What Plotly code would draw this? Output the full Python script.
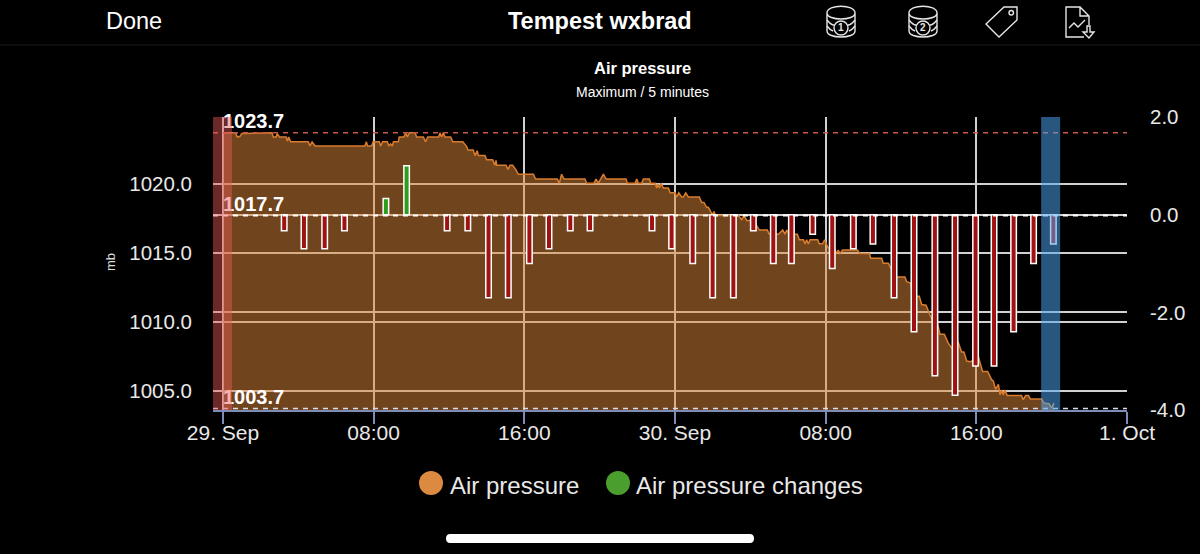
import pandas as pd
import plotly.graph_objects as go

# hours after 29 Sep 00:00
pressure_hours = [
    0.0, 0.67, 0.76, 0.9, 1.0, 2.6, 2.67, 2.82, 2.88, 3.0, 3.35, 3.42, 3.49, 3.59, 4.53, 4.62, 4.73, 4.89,
    7.54, 7.61, 7.68, 7.89, 7.98, 8.3, 8.37, 8.48, 8.73, 8.8, 8.9, 8.99, 9.05, 9.31, 9.36, 9.61, 9.7, 9.79, 9.89,
    10.2, 10.28, 10.64, 10.76, 10.87, 11.45, 11.52, 11.61, 11.7, 11.79, 12.09, 12.2, 12.73, 12.94, 13.01, 13.29,
    13.38, 13.5, 13.56, 13.91, 14.0, 14.32, 14.43, 14.5, 14.53, 15.03, 15.13, 15.24, 15.38, 15.54, 15.68,
    16.48, 16.6, 17.75, 17.86, 17.98, 18.1, 19.22, 19.31, 19.7, 19.81, 19.93, 20.05, 20.2, 20.34, 21.4, 21.47,
    21.88, 21.97, 22.05, 22.23, 22.32, 22.64, 22.71, 22.94, 23.03, 23.08, 23.17, 23.26, 23.38, 23.65, 23.74,
    24.0, 24.09, 24.2, 24.35, 24.44, 24.57, 24.71, 25.29, 25.42, 25.54, 25.68, 25.77, 25.89, 26.0, 26.07, 26.14,
    27.36, 27.54, 27.66, 27.81, 28.16, 28.37, 28.48, 28.9, 29.01, 29.49, 29.72, 29.84, 29.93, 30.07, 30.5, 30.6,
    30.82, 30.9, 30.99, 31.08, 31.17, 31.58, 31.66, 31.84, 31.95, 32.05, 32.14, 32.5, 32.58, 32.67, 32.76, 32.9,
    33.68, 33.82, 34.32, 34.39, 34.97, 35.06, 35.33, 35.45, 35.56, 35.68, 36.21, 36.3, 36.51, 36.62, 36.97, 37.1,
    37.33, 37.54, 37.72, 37.93, 38.07, 38.3, 38.51, 38.69, 39.04, 39.22, 39.34, 39.49, 39.7, 40.1, 40.33, 40.6,
    40.81, 40.9, 41.02, 41.17, 41.26, 41.34, 41.43, 41.52, 41.64, 42.4, 42.49, 42.62, 42.76, 42.87, 43.47, 43.59,
    43.86, 44.0, 44.12,
]
pressure_mb = [
    1023.7, 1023.7, 1023.4, 1023.45, 1023.65, 1023.7, 1023.4, 1023.4, 1023.65, 1023.4, 1023.4, 1023.1, 1023.4, 1023.05, 1023.05, 1022.75, 1023.05, 1022.75,
    1022.75, 1023.05, 1022.75, 1022.75, 1023.05, 1023.05, 1022.75, 1023.05, 1023.05, 1022.75, 1022.9, 1022.75, 1023.05, 1023.05, 1023.4, 1023.4, 1023.7, 1023.4, 1023.7,
    1023.7, 1023.4, 1023.4, 1023.05, 1023.4, 1023.4, 1023.7, 1023.4, 1023.7, 1023.4, 1023.4, 1023.05, 1023.05, 1022.7, 1022.45, 1022.45,
    1022.05, 1022.4, 1022.05, 1022.05, 1021.75, 1021.75, 1021.35, 1021.7, 1021.35, 1021.35, 1021.05, 1021.35, 1021.35, 1021.05, 1020.7,
    1020.7, 1020.35, 1020.35, 1020.05, 1020.7, 1020.35, 1020.35, 1020.05, 1020.05, 1020.35, 1020.05, 1020.35, 1020.7, 1020.35, 1020.35, 1020.05,
    1020.05, 1020.35, 1020.05, 1020.05, 1020.35, 1020.35, 1020.05, 1020.05, 1019.7, 1020.0, 1019.7, 1020.05, 1019.7, 1019.7, 1019.35,
    1019.35, 1019.05, 1019.35, 1019.05, 1019.05, 1019.35, 1019.05, 1019.05, 1018.65, 1018.65, 1018.3, 1018.3, 1018.0, 1017.75, 1018.0, 1017.7,
    1017.7, 1017.4, 1017.7, 1017.35, 1017.35, 1016.95, 1016.65, 1016.65, 1016.35, 1016.35, 1016.65, 1016.35, 1016.65, 1016.35, 1016.35, 1015.95,
    1015.95, 1015.65, 1015.95, 1015.65, 1015.95, 1015.95, 1015.65, 1015.65, 1015.95, 1015.6, 1015.35, 1015.2, 1014.95, 1015.2, 1014.95, 1015.2,
    1015.2, 1014.95, 1014.95, 1014.6, 1014.6, 1014.25, 1014.25, 1013.9, 1013.9, 1013.25, 1013.25, 1012.9, 1012.8, 1011.85, 1011.85, 1011.25,
    1011.2, 1010.5, 1010.0, 1009.9, 1009.1, 1009.1, 1008.45, 1008.1, 1008.5, 1007.8, 1007.8, 1007.15, 1007.1, 1007.5, 1006.4, 1006.4,
    1005.8, 1005.7, 1005.1, 1005.45, 1004.7, 1005.05, 1004.7, 1005.05, 1004.65, 1004.65, 1004.35, 1004.65, 1004.65, 1004.4, 1004.4, 1004.1,
    1004.05, 1003.75, 1004.1,
]

change_hours = [
    3.25, 4.3, 5.4, 6.45, 8.65, 9.75, 11.9, 13.0, 14.1, 15.15, 16.27, 17.31, 18.44, 19.49, 22.78, 23.82, 24.94,
    26.0, 27.1, 28.16, 29.22, 30.18, 31.31, 32.35, 33.47, 34.51, 35.63, 36.69, 37.8, 38.87, 39.96, 40.94, 41.98,
    43.04, 44.09,
]
change_mb = [
    -0.33, -0.7, -0.7, -0.33, 0.33, 1.0, -0.33, -0.33, -1.7, -1.7, -1.0, -0.7, -0.33, -0.33, -0.33, -0.7, -1.0,
    -1.7, -1.7, -0.33, -1.0, -1.0, -0.4, -1.1, -0.7, -0.6, -1.7, -2.4, -3.3, -3.7, -3.1, -3.1, -2.4,
    -1.0, -0.6,
]

x_tick_dates = ["2021-09-29 00:00", "2021-09-29 08:00", "2021-09-29 16:00", "2021-09-30 00:00",
                "2021-09-30 08:00", "2021-09-30 16:00", "2021-10-01 00:00"]
x_tick_labels = ["29. Sep", "08:00", "16:00", "30. Sep", "08:00", "16:00", "1. Oct"]
y_ticks = [1005, 1010, 1015, 1020]
y_tick_labels = ["1005.0", "1010.0", "1015.0", "1020.0"]
y2_ticks = [-4, -2, 0, 2]
y2_tick_labels = ["-4.0", "-2.0", "0.0", "2.0"]
ref_values = [1023.7, 1017.7, 1003.7]
ref_colors = ["#c9584a", "#ffffff", "#d8e0f0"]
band_starts = [-0.53, 43.44]
band_ends = [0.48, 44.45]
band_colors = ["rgba(235,89,89,0.45)", "rgba(76,164,242,0.52)"]
legend_names = ["Air pressure", "Air pressure changes"]
legend_colors = ["#dc8a40", "#4a9e2e"]

start = pd.Timestamp("2021-09-29 00:00")


def to_date(hours):
    return start + pd.to_timedelta(hours, unit="h")


# plot area in window pixels
LEFT, RIGHT, TOP, BOTTOM = 213, 1127, 117, 410


def pxx(x):
    return (x - LEFT) / (RIGHT - LEFT)


def pxy(y):
    return (BOTTOM - y) / (BOTTOM - TOP)


def path(*parts):
    # parts are svg commands / pixel pairs, turned into paper coordinates
    out = []
    for p in parts:
        if isinstance(p, str):
            out.append(p)
        else:
            out.append(f"{pxx(p[0]):.5f},{pxy(p[1]):.5f}")
    return " ".join(out)


fig = go.Figure()

fig.add_trace(go.Scatter(
    x=[to_date(h) for h in pressure_hours], y=pressure_mb, mode="lines", yaxis="y", name=legend_names[0],
    line=dict(color="#d97c2e", width=1.5), fill="tozeroy", fillcolor="rgba(224,138,60,0.5)",
))

# labels as a trace so the plot bands tint them
fig.add_trace(go.Scatter(
    x=[start] * 3, y=ref_values, mode="text", yaxis="y", text=[f"{v:.1f}" for v in ref_values],
    textposition="top right", cliponaxis=False,
    textfont=dict(family="Liberation Sans", size=20, color="#ffffff", weight="bold"),
))

fig.add_trace(go.Bar(
    x=[to_date(h) for h in change_hours], y=change_mb, yaxis="y2", width=1050000, name=legend_names[1],
    marker=dict(color=["#2f9e1e" if v > 0 else "#a01212" for v in change_mb],
                line=dict(color="#ffffff", width=1.5)),
))

shapes = []
for v, c in zip(ref_values, ref_colors):
    shapes.append(dict(type="line", xref="paper", yref="y", x0=0, x1=1, y0=v, y1=v, layer="above",
                       line=dict(color=c, width=2 if c == "#ffffff" else 1.5, dash="5px,5px")))
for a, b, c in zip(band_starts, band_ends, band_colors):
    shapes.append(dict(type="rect", xref="x", yref="paper", x0=to_date(a), x1=to_date(b), y0=0, y1=1,
                       layer="above", fillcolor=c, line_width=0))

# header separator and home bar
shapes.append(dict(type="line", xref="paper", yref="paper", x0=pxx(0), x1=pxx(1200), y0=pxy(45), y1=pxy(45),
                   line=dict(color="#1c1c1c", width=1)))
shapes.append(dict(type="path", xref="paper", yref="paper", fillcolor="#ffffff", line_width=0,
                   path=path("M", (450, 534), "L", (750, 534), "Q", (754, 534), (754, 538.5), "Q", (754, 543), (750, 543),
                             "L", (450, 543), "Q", (446, 543), (446, 538.5), "Q", (446, 534), (450, 534), "Z")))

# legend swatches, plotly caps its own legend markers at 16px
for cx, c in zip([431, 618], legend_colors):
    shapes.append(dict(type="circle", xref="paper", yref="paper", fillcolor=c, line_width=0,
                       x0=pxx(cx - 12), x1=pxx(cx + 12), y0=pxy(495), y1=pxy(471)))

# toolbar icons
icon_line = dict(color="#e6e6e6", width=1.4)
for cx in [841, 923]:
    l, r = cx - 14, cx + 14
    shapes.append(dict(type="path", xref="paper", yref="paper", line=icon_line, path=path(
        "M", (l, 13), "C", (l, 4), (r, 4), (r, 13), "C", (r, 21), (l, 21), (l, 13),
        "L", (l, 31), "C", (l, 39), (r, 39), (r, 31), "L", (r, 13))))
    shapes.append(dict(type="path", xref="paper", yref="paper", line=icon_line, path=path(
        "M", (l, 20), "Q", (l + 4, 25), (cx - 7, 25), "M", (r, 20), "Q", (r - 4, 25), (cx + 7, 25),
        "M", (l, 26), "Q", (l + 3, 30), (cx - 8, 31), "M", (r, 26), "Q", (r - 3, 30), (cx + 8, 31))))
    shapes.append(dict(type="circle", xref="paper", yref="paper", line=icon_line,
                       x0=pxx(cx - 7), x1=pxx(cx + 7), y0=pxy(35), y1=pxy(21)))
shapes.append(dict(type="path", xref="paper", yref="paper", line=icon_line, path=path(
    "M", (1004, 7), "L", (1017, 7), "L", (1017, 20), "L", (999, 37), "L", (986, 24), "Z")))
shapes.append(dict(type="circle", xref="paper", yref="paper", line=icon_line,
                   x0=pxx(1009), x1=pxx(1013.5), y0=pxy(15), y1=pxy(10.5)))
shapes.append(dict(type="path", xref="paper", yref="paper", line=icon_line, path=path(
    "M", (1084, 37), "L", (1066, 37), "L", (1066, 7), "L", (1080, 7),
    "L", (1089, 16), "L", (1089, 25), "M", (1080, 7), "L", (1080, 16), "L", (1089, 16),
    "M", (1069, 28), "L", (1074, 23), "L", (1078, 27), "L", (1085, 20),
    "M", (1087, 26), "L", (1087, 32), "L", (1083, 32), "L", (1089, 38), "L", (1094, 32), "L", (1090, 32), "L", (1090, 26), "Z")))

annotations = [
    dict(text="Done", x=pxx(104), y=pxy(21), xanchor="left", font=dict(size=23.5, color="#ffffff")),
    dict(text="<b>Tempest wxbrad</b>", x=pxx(600), y=pxy(21), font=dict(size=23.5, color="#ffffff")),
    dict(text="<b>Air pressure</b>", x=pxx(642), y=pxy(68), font=dict(size=16.5, color="#ffffff")),
    dict(text="Maximum / 5 minutes", x=pxx(642), y=pxy(92), font=dict(size=14, color="#ffffff")),
    dict(text="mb", x=pxx(110), y=pxy(262), textangle=-90, font=dict(size=13, color="#dddddd")),
    dict(text="<b>1</b>", x=pxx(841), y=pxy(28), font=dict(size=10, color="#e6e6e6")),
    dict(text="<b>2</b>", x=pxx(923), y=pxy(28), font=dict(size=10, color="#e6e6e6")),
    dict(text=legend_names[0], x=pxx(448), y=pxy(485), xanchor="left", font=dict(size=24, color="#e8e8e8")),
    dict(text=legend_names[1], x=pxx(634), y=pxy(485), xanchor="left", font=dict(size=24, color="#e8e8e8")),
]
for a in annotations:
    a.setdefault("xanchor", "center")
    a.update(xref="paper", yref="paper", showarrow=False, yanchor="middle")

grid = dict(showgrid=True, gridcolor="#d0d0d0", gridwidth=1.5, zeroline=False)

fig.update_layout(
    width=1200, height=554, margin=dict(l=LEFT, r=1200 - RIGHT, t=TOP, b=554 - BOTTOM, autoexpand=False),
    paper_bgcolor="#000000", plot_bgcolor="#000000", font=dict(family="Liberation Sans", color="#e8e8e8"),
    barmode="overlay", shapes=shapes, annotations=annotations, hovermode=False, showlegend=False,
    xaxis=dict(type="date", range=[to_date(band_starts[0]), "2021-10-01 00:00"], tickmode="array",
               tickvals=x_tick_dates, ticktext=x_tick_labels, tickangle=0, ticks="outside", ticklen=12, tickwidth=1.5,
               tickcolor="#7d8db8", showline=True, linecolor="#7d8db8", linewidth=1.5,
               tickfont=dict(size=21), ticklabelstandoff=-9, **grid),
    yaxis=dict(range=[1003.6, 1024.85], tickmode="array", tickvals=y_ticks, ticktext=y_tick_labels,
               tickfont=dict(size=20.5), ticklabelstandoff=20, **grid),
    yaxis2=dict(range=[-4, 2], overlaying="y", side="right", tickmode="array", tickvals=y2_ticks,
                ticktext=y2_tick_labels, tickfont=dict(size=20.5), ticklabelstandoff=22, **grid),
)

# drop the default page margin so the chart fills the window
fig.write_html("out.html", config={"displayModeBar": False},
               post_script="document.body.style.margin='0';document.body.style.background='#000';")
